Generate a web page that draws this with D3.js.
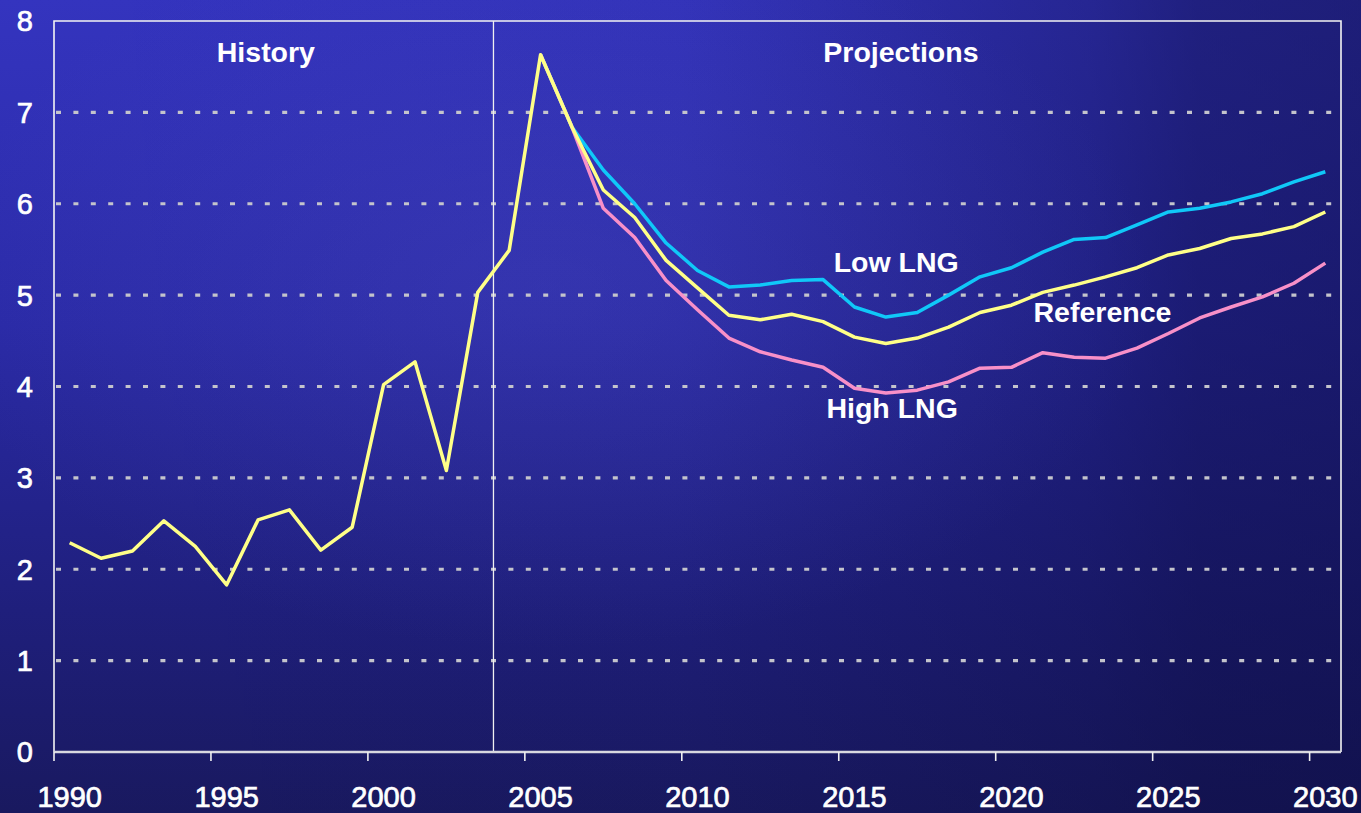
<!DOCTYPE html>
<html>
<head>
<meta charset="utf-8">
<script src="https://cdn.jsdelivr.net/npm/d3@7"></script>
<style>
  body { margin: 0; background: #1c1c66; overflow: hidden; }
  svg { display: block; }
</style>
</head>
<body>
<div id="chart"></div>
<script>
// history (yellow), 1990-2004
const histYears = d3.range(1990, 2005);
const histValues = [2.29, 2.12, 2.2, 2.53, 2.25, 1.83, 2.54, 2.65, 2.21, 2.46, 4.02, 4.27, 3.08, 5.03, 5.49];

// projection cases, 2005-2030
const projYears = d3.range(2005, 2031);
const reference = [7.63, 6.84, 6.15, 5.85, 5.38, 5.08, 4.78, 4.73, 4.79, 4.71, 4.54, 4.47, 4.53, 4.65, 4.81,
                   4.89, 5.03, 5.11, 5.2, 5.3, 5.44, 5.51, 5.62, 5.67, 5.75, 5.91];
const lowLng    = [7.63, 6.84, 6.37, 6.0, 5.57, 5.27, 5.09, 5.11, 5.16, 5.17, 4.87, 4.76, 4.81, 5.0, 5.2,
                   5.3, 5.47, 5.61, 5.63, 5.77, 5.91, 5.95, 6.02, 6.11, 6.24, 6.35];
const highLng   = [7.63, 6.84, 5.95, 5.63, 5.16, 4.84, 4.53, 4.38, 4.29, 4.21, 3.98, 3.93, 3.96, 4.05, 4.2,
                   4.21, 4.37, 4.32, 4.31, 4.42, 4.58, 4.75, 4.87, 4.98, 5.13, 5.35];

const yTicks = [0, 1, 2, 3, 4, 5, 6, 7, 8];
const xTicks = [1990, 1995, 2000, 2005, 2010, 2015, 2020, 2025, 2030];
const dividerYear = 2004;

const labels = [
  {text: 'History', year: 1996.75, value: 7.55},
  {text: 'Projections', year: 2016.98, value: 7.55},
  {text: 'Low LNG', year: 2016.83, value: 5.25},
  {text: 'Reference', year: 2023.4, value: 4.71},
  {text: 'High LNG', year: 2016.7, value: 3.66}
];

const totalWidth = 1361, totalHeight = 813;
const margins = {top: 21, bottom: 61, left: 54, right: 20};

const svg = d3.select('#chart').append('svg')
  .attr('width', totalWidth)
  .attr('height', totalHeight);

// background
const defs = svg.append('defs');
const bgV = defs.append('linearGradient').attr('id', 'bgV')
  .attr('x1', 0).attr('y1', 0).attr('x2', 0).attr('y2', 1);
[['0%', '#3434bf'], ['40%', '#2a2aa6'], ['75%', '#1f1f7c'], ['100%', '#19195f']].forEach(s =>
  bgV.append('stop').attr('offset', s[0]).attr('stop-color', s[1]));
const bgH = defs.append('linearGradient').attr('id', 'bgH')
  .attr('x1', 0).attr('y1', 0).attr('x2', 1).attr('y2', 0);
[['0%', 0], ['50%', 0.05], ['80%', 0.35], ['88%', 0.5], ['100%', 0.55]].forEach(s =>
  bgH.append('stop').attr('offset', s[0]).attr('stop-color', '#0c0c40').attr('stop-opacity', s[1]));
const glow = defs.append('radialGradient').attr('id', 'glow')
  .attr('cx', 0.4).attr('cy', 0.35).attr('r', 0.45);
glow.append('stop').attr('offset', '0%').attr('stop-color', '#5a5ad0').attr('stop-opacity', 0.22);
glow.append('stop').attr('offset', '100%').attr('stop-color', '#5a5ad0').attr('stop-opacity', 0);

svg.append('rect').attr('width', totalWidth).attr('height', totalHeight).style('fill', 'url(#bgV)');
svg.append('rect').attr('width', totalWidth).attr('height', totalHeight).style('fill', 'url(#bgH)');
svg.append('rect').attr('width', totalWidth).attr('height', totalHeight).style('fill', 'url(#glow)');

// scales: each year is a category slot, points sit in the middle of the slot
const x = d3.scaleLinear().domain([1990, 2031]).range([margins.left, totalWidth - margins.right]);
const y = d3.scaleLinear().domain([0, 8]).range([totalHeight - margins.bottom, margins.top]);
const xMid = yr => x(yr + 0.5);

// gridlines
svg.append('g').attr('class', 'grid')
  .selectAll('line')
  .data(yTicks.filter(d => d > 0 && d < 8))
  .enter().append('line')
  .attr('x1', x(1990) + 2).attr('x2', x(2031) - 3)
  .attr('y1', d => y(d)).attr('y2', d => y(d))
  .style('stroke', '#c4c4cc')
  .style('stroke-width', 3.2)
  .style('stroke-dasharray', '5,12.4');

// plot frame (top, left, right)
svg.append('path')
  .attr('d', 'M' + [x(1990), y(0)] + 'V' + y(8) + 'H' + x(2031) + 'V' + y(0))
  .style('fill', 'none')
  .style('stroke', '#f4f4f4')
  .style('stroke-width', 1.6);

// history / projections divider
svg.append('line')
  .attr('x1', x(dividerYear)).attr('x2', x(dividerYear))
  .attr('y1', y(8)).attr('y2', y(0))
  .style('stroke', '#f0f0f0')
  .style('stroke-width', 1.3);

// x axis
const xAxis = svg.append('g').attr('class', 'axis axis--x')
  .attr('transform', 'translate(0,' + y(0) + ')');
xAxis.append('line')
  .attr('x1', x(1990)).attr('x2', x(2031))
  .style('stroke', '#d8d8e0').style('stroke-width', 2.5);
xAxis.selectAll('line.tick')
  .data(xTicks)
  .enter().append('line')
  .attr('class', 'tick')
  .attr('x1', d => x(d)).attr('x2', d => x(d))
  .attr('y1', 0).attr('y2', 9)
  .style('stroke', '#f0f0f0').style('stroke-width', 1.6);
xAxis.selectAll('text')
  .data(xTicks)
  .enter().append('text')
  .attr('x', d => xMid(d))
  .attr('y', 55)
  .attr('text-anchor', 'middle')
  .style('font-family', '"Liberation Sans", Arial, sans-serif')
  .style('font-size', '29px')
  .style('fill', '#ffffff')
  .style('stroke', '#ffffff')
  .style('stroke-width', 0.7)
  .text(d => d);

// y labels
svg.append('g').attr('class', 'axis axis--y')
  .selectAll('text')
  .data(yTicks)
  .enter().append('text')
  .attr('x', 33)
  .attr('y', d => y(d))
  .attr('dy', '0.36em')
  .attr('text-anchor', 'end')
  .style('font-family', '"Liberation Sans", Arial, sans-serif')
  .style('font-size', '29px')
  .style('fill', '#ffffff')
  .style('stroke', '#ffffff')
  .style('stroke-width', 0.7)
  .text(d => d);

// lines
const line = d3.line()
  .x(d => xMid(d[0]))
  .y(d => y(d[1]));

const series = [
  {name: 'low', color: '#10c8f8', years: projYears, values: lowLng},
  {name: 'high', color: '#f890c8', years: projYears, values: highLng},
  {name: 'reference', color: '#ffff88', years: histYears.concat(projYears), values: histValues.concat(reference)}
];

svg.append('g').attr('class', 'lines')
  .selectAll('path')
  .data(series)
  .enter().append('path')
  .attr('d', d => line(d.years.map((yr, i) => [yr, d.values[i]])))
  .style('fill', 'none')
  .style('stroke', d => d.color)
  .style('stroke-width', 3.5)
  .style('stroke-linejoin', 'round');

// annotations
svg.append('g').attr('class', 'labels')
  .selectAll('text')
  .data(labels)
  .enter().append('text')
  .attr('x', d => x(d.year))
  .attr('y', d => y(d.value))
  .attr('text-anchor', 'middle')
  .style('font-family', '"Liberation Sans", Arial, sans-serif')
  .style('font-weight', 'bold')
  .style('font-size', '28.5px')
  .style('fill', '#ffffff')
  .text(d => d.text);
</script>
</body>
</html>
